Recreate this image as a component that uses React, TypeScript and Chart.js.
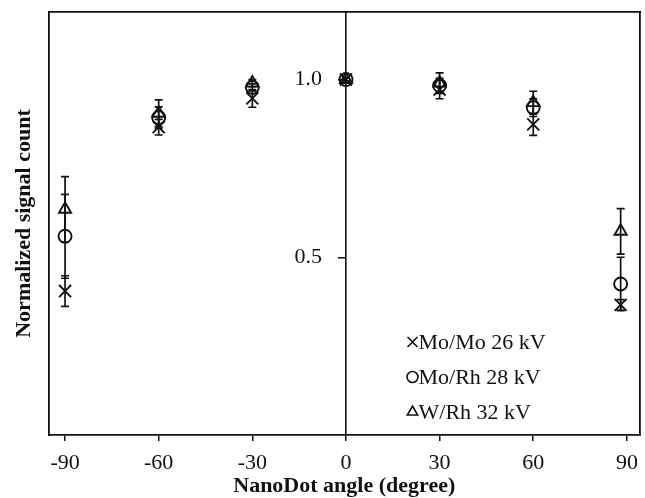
import React, { useEffect, useRef } from 'react';
import { Chart, registerables } from 'chart.js';

Chart.register(...registerables);

// ---- data ----
const angles = [-90, -60, -30, 0, 30, 60, 88];
const moMoValues = [0.405, 0.866, 0.947, 1.0, 0.972, 0.874, 0.366];
const moMoErrors = [0.043, 0.022, 0.025, 0.005, 0.026, 0.031, 0.015];
const moRhValues = [0.559, 0.893, 0.978, 1.0, 0.983, 0.921, 0.425];
const moRhErrors = [0.118, 0.03, 0.01, 0.005, 0.02, 0.025, 0.075];
const wRhValues = [0.635, 0.905, 0.99, 1.0, 0.99, 0.935, 0.573];
const wRhErrors = [0.092, 0.038, 0.01, 0.005, 0.029, 0.032, 0.064];
const seriesLabels = ['Mo/Mo 26 kV', 'Mo/Rh 28 kV', 'W/Rh 32 kV'];
const xTicks = [-90, -60, -30, 0, 30, 60, 90];
const yTicks = [0.5, 1.0];
const xTitle = 'NanoDot angle (degree)';
const yTitle = 'Normalized signal count';

const FONT = "'Liberation Serif', 'Times New Roman', serif";
const INK = '#111111';
const X_MIN = -95.3;
const X_MAX = 94.2;
const Y_MIN = 0;
const Y_MAX = 1.19;

function drawSymbol(ctx: CanvasRenderingContext2D, style: string, x: number, y: number, r: number) {
  ctx.beginPath();
  if (style === 'crossRot') {
    const d = r * Math.SQRT1_2;
    ctx.moveTo(x - d, y - d);
    ctx.lineTo(x + d, y + d);
    ctx.moveTo(x + d, y - d);
    ctx.lineTo(x - d, y + d);
  } else if (style === 'circle') {
    ctx.arc(x, y, r, 0, Math.PI * 2);
  } else {
    for (let k = 0; k < 3; k++) {
      const a = -Math.PI / 2 + (k * 2 * Math.PI) / 3;
      const px = x + Math.cos(a) * r;
      const py = y + Math.sin(a) * r;
      if (k === 0) ctx.moveTo(px, py);
      else ctx.lineTo(px, py);
    }
    ctx.closePath();
  }
  ctx.stroke();
}

const errorBarsPlugin = {
  id: 'errorBars',
  beforeDatasetsDraw(chart: any) {
    const { ctx } = chart;
    const xs = chart.scales.x;
    const ys = chart.scales.y;
    ctx.save();
    ctx.strokeStyle = INK;
    ctx.lineWidth = 1.7;
    chart.data.datasets.forEach((ds: any) => {
      ds.data.forEach((p: any, i: number) => {
        const e = ds.errors[i];
        const px = xs.getPixelForValue(p.x);
        const yTop = ys.getPixelForValue(p.y + e);
        const yBot = ys.getPixelForValue(p.y - e);
        ctx.beginPath();
        ctx.moveTo(px, yTop);
        ctx.lineTo(px, yBot);
        ctx.moveTo(px - 4, yTop);
        ctx.lineTo(px + 4, yTop);
        ctx.moveTo(px - 4, yBot);
        ctx.lineTo(px + 4, yBot);
        ctx.stroke();
      });
    });
    ctx.restore();
  },
};

const insideLegendPlugin = {
  id: 'insideLegend',
  afterDraw(chart: any) {
    const { ctx, chartArea } = chart;
    const symX = chartArea.left + 364;
    const textX = symX + 6;
    const baseY = chartArea.top + 337;
    const step = 35;
    const radii: Record<string, number> = { crossRot: 7, circle: 5.5, triangle: 6 };
    ctx.save();
    ctx.fillStyle = INK;
    ctx.strokeStyle = INK;
    ctx.lineWidth = 1.6;
    ctx.font = `22px ${FONT}`;
    ctx.textAlign = 'left';
    ctx.textBaseline = 'alphabetic';
    chart.data.datasets.forEach((ds: any, i: number) => {
      const yb = baseY + i * step;
      drawSymbol(ctx, ds.pointStyle, symX, yb - 7, radii[ds.pointStyle]);
      ctx.fillText(ds.label, textX, yb);
    });
    ctx.restore();
  },
};

const zeroPad = (s: any) => {
  s.paddingTop = 0;
  s.paddingBottom = 0;
  s.paddingLeft = 0;
  s.paddingRight = 0;
};

export default function App() {
  const canvasRef = useRef<HTMLCanvasElement | null>(null);

  useEffect(() => {
    if (!canvasRef.current) return;
    const mk = (vals: number[]) => vals.map((v, i) => ({ x: angles[i], y: v }));
    const common = {
      showLine: false,
      borderColor: INK,
      backgroundColor: 'rgba(0,0,0,0)',
      pointBorderWidth: 1.9,
      xAxisID: 'x',
      yAxisID: 'y',
    };
    const tickFont = { family: FONT, size: 22 };
    const titleFont = { family: FONT, size: 22, weight: 'bold' as const, lineHeight: 1.1 };
    const hidden = (pos: any, axis: 'x' | 'y', min: number, max: number, fit: (s: any) => void) => ({
      type: 'linear' as const,
      position: pos,
      axis,
      min,
      max,
      ticks: { display: false },
      grid: { display: false },
      border: { display: true, color: INK, width: 1.8 },
      afterFit: (s: any) => {
        zeroPad(s);
        fit(s);
      },
    });

    const chart = new Chart(canvasRef.current, {
      type: 'scatter',
      data: {
        datasets: [
          { ...common, label: seriesLabels[0], data: mk(moMoValues), errors: moMoErrors, pointStyle: 'crossRot', pointRadius: 8.5 } as any,
          { ...common, label: seriesLabels[1], data: mk(moRhValues), errors: moRhErrors, pointStyle: 'circle', pointRadius: 6.5 } as any,
          { ...common, label: seriesLabels[2], data: mk(wRhValues), errors: wRhErrors, pointStyle: 'triangle', pointRadius: 7 } as any,
        ],
      },
      options: {
        animation: false,
        responsive: true,
        maintainAspectRatio: false,
        layout: { autoPadding: false, padding: { top: 12, right: 5, left: 0, bottom: 0 } },
        plugins: {
          legend: { display: false },
          tooltip: { enabled: false },
        },
        scales: {
          x: {
            type: 'linear',
            position: 'bottom',
            min: X_MIN,
            max: X_MAX,
            afterBuildTicks: (s: any) => {
              s.ticks = xTicks.map((v) => ({ value: v }));
            },
            ticks: { font: tickFont, color: INK, padding: 9, maxRotation: 0 },
            grid: { display: true, drawOnChartArea: false, drawTicks: true, tickLength: 6, color: INK, lineWidth: 1.5 },
            border: { display: true, color: INK, width: 1.8 },
            title: { display: true, text: xTitle, font: titleFont, color: INK, padding: { top: 0, bottom: 0 } },
            afterFit: (s: any) => {
              zeroPad(s);
              s.height = 63;
            },
          },
          xt: hidden('top', 'x', X_MIN, X_MAX, (s: any) => { s.height = 0; }),
          yl: {
            ...hidden('left', 'y', Y_MIN, Y_MAX, (s: any) => { s.width = 48.5; }),
            title: { display: true, text: yTitle, font: titleFont, color: INK, padding: { top: 12, bottom: 0 } },
          },
          yr: hidden('right', 'y', Y_MIN, Y_MAX, (s: any) => { s.width = 0; }),
          // centre axis line with its tick marks
          y: {
            type: 'linear',
            position: { x: 0 },
            min: Y_MIN,
            max: Y_MAX,
            afterBuildTicks: (s: any) => {
              s.ticks = yTicks.map((v) => ({ value: v }));
            },
            ticks: { display: false },
            grid: { display: true, drawOnChartArea: false, drawTicks: true, tickLength: 7, color: INK, lineWidth: 1.5 },
            border: { display: true, color: INK, width: 1.6 },
            afterFit: zeroPad,
          },
          // tick labels of the centre axis, set a little to its left
          yLabels: {
            type: 'linear',
            axis: 'y',
            position: { x: -7.7 },
            min: Y_MIN,
            max: Y_MAX,
            afterBuildTicks: (s: any) => {
              s.ticks = yTicks.map((v) => ({ value: v }));
            },
            ticks: { font: tickFont, color: INK, padding: 0, callback: (v: any) => Number(v).toFixed(1) },
            grid: { display: false },
            border: { display: false },
            afterFit: zeroPad,
          },
        } as any,
      },
      plugins: [errorBarsPlugin, insideLegendPlugin],
    });
    return () => chart.destroy();
  }, []);

  return (
    <div style={{ position: 'absolute', left: 0, top: 0, width: 645, height: 498, background: '#fff' }}>
      <canvas ref={canvasRef} />
    </div>
  );
}
